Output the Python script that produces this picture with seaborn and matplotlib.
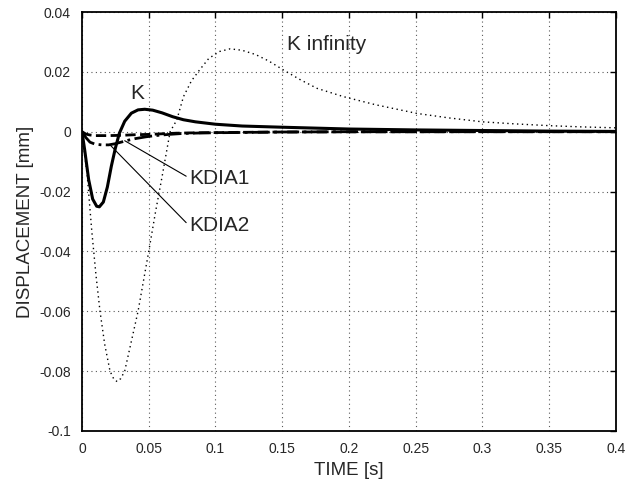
import matplotlib
matplotlib.use("Agg")
import matplotlib.pyplot as plt
import seaborn as sns

# --- data ---
k_t = [0, 0.002, 0.005, 0.008, 0.011, 0.013, 0.016, 0.019, 0.022, 0.025, 0.028,
       0.032, 0.037, 0.042, 0.047, 0.053, 0.06, 0.068, 0.076, 0.085, 0.1, 0.12,
       0.15, 0.2, 0.25, 0.3, 0.35, 0.4]
k_y = [0, -0.006, -0.016, -0.0225, -0.0249, -0.0251, -0.0235, -0.0185, -0.0115,
       -0.0055, -0.0005, 0.0035, 0.0062, 0.0073, 0.0075, 0.0072, 0.0063, 0.0050,
       0.0040, 0.0033, 0.0025, 0.0019, 0.0015, 0.0009, 0.0006, 0.0004, 0.0002, 0.0001]

kinf_t = [0, 0.004, 0.0073, 0.0105, 0.0135, 0.017, 0.021, 0.024, 0.0264, 0.029,
          0.032, 0.036, 0.042, 0.046, 0.050, 0.055, 0.060, 0.066, 0.071, 0.076,
          0.082, 0.088, 0.095, 0.103, 0.111, 0.12, 0.13, 0.14, 0.151, 0.163,
          0.176, 0.196, 0.22, 0.251, 0.275, 0.3, 0.325, 0.351, 0.375, 0.4]
kinf_y = [0, -0.015, -0.033, -0.048, -0.060, -0.071, -0.080, -0.0828, -0.0835,
          -0.0825, -0.080, -0.072, -0.060, -0.050, -0.040, -0.027, -0.015, 0.0,
          0.0039, 0.0117, 0.0170, 0.0206, 0.0245, 0.0268, 0.0277, 0.0272, 0.0258,
          0.0236, 0.0206, 0.0175, 0.0145, 0.0117, 0.0090, 0.0061, 0.0046, 0.0033,
          0.0026, 0.0020, 0.0016, 0.0013]

kdia1_t = [0, 0.003, 0.006, 0.01, 0.02, 0.03, 0.04, 0.05, 0.06, 0.07, 0.08, 0.1,
           0.12, 0.15, 0.2, 0.3, 0.4]
kdia1_y = [0, -0.0008, -0.0011, -0.0013, -0.0013, -0.0012, -0.0010, -0.0009,
           -0.0007, -0.0005, -0.0004, -0.0003, -0.0002, -0.0001, -0.00005, 0, 0]

kdia2_t = [0, 0.003, 0.006, 0.01, 0.015, 0.02, 0.025, 0.03, 0.035, 0.04, 0.048,
           0.055, 0.065, 0.075, 0.09, 0.11, 0.15, 0.2, 0.3, 0.4]
kdia2_y = [0, -0.002, -0.0035, -0.0042, -0.0044, -0.0044, -0.0040, -0.0034,
           -0.0028, -0.0023, -0.0017, -0.0013, -0.0009, -0.0006, -0.0004, -0.0003,
           -0.0001, 0, 0, 0]

x_ticks = [0, 0.05, 0.1, 0.15, 0.2, 0.25, 0.3, 0.35, 0.4]
x_labels = ['0', '0.05', '0.1', '0.15', '0.2', '0.25', '0.3', '0.35', '0.4']
y_ticks = [-0.1, -0.08, -0.06, -0.04, -0.02, 0, 0.02, 0.04]
y_labels = ['-0.1', '-0.08', '-0.06', '-0.04', '-0.02', '0', '0.02', '0.04']

# --- style ---
sns.set_style("white")
plt.rcParams['font.family'] = ['Liberation Sans', 'DejaVu Sans']

fig = plt.figure(figsize=(6.43, 4.86), dpi=100)
ax = fig.add_axes([0.1275, 0.1132, 0.8305, 0.8621])

sns.lineplot(x=kinf_t, y=kinf_y, ax=ax, color='black', linestyle=(0, (1, 2.5)), linewidth=1.0)
sns.lineplot(x=kdia1_t, y=kdia1_y, ax=ax, color='black', linestyle='--', linewidth=2.0)
sns.lineplot(x=kdia2_t, y=kdia2_y, ax=ax, color='black', linestyle='-.', linewidth=2.0)
sns.lineplot(x=k_t, y=k_y, ax=ax, color='black', linestyle='-', linewidth=2.2)

ax.set_xlim(0, 0.4)
ax.set_ylim(-0.1, 0.04)
ax.set_xticks(x_ticks)
ax.set_xticklabels(x_labels)
ax.set_yticks(y_ticks)
ax.set_yticklabels(y_labels)
ax.grid(True, linestyle=(0, (1, 3)), color='0.35', linewidth=0.8)
ax.tick_params(direction='in', top=True, right=True, length=4, width=1,
               labelsize=10, pad=8, color='black')
for s in ax.spines.values():
    s.set_color('black')
    s.set_linewidth(1.3)

ax.set_xlabel('TIME [s]', fontsize=13.5, labelpad=4)
ax.set_ylabel('DISPLACEMENT [mm]', fontsize=13.5, labelpad=4)

# --- labels on the curves ---
ax.text(0.0415, 0.0129, 'K', fontsize=15, ha='center', va='center')
ax.text(0.1535, 0.029, 'K infinity', fontsize=15, ha='left', va='center')
line_props = dict(arrowstyle='-', color='black', lw=0.8, shrinkA=0, shrinkB=0,
                  relpos=(0, 0.5))
ax.annotate('KDIA1', xy=(0.032, -0.0030), xytext=(0.0805, -0.0155),
            fontsize=15, ha='left', va='center', arrowprops=line_props)
ax.annotate('KDIA2', xy=(0.021, -0.0044), xytext=(0.0805, -0.0315),
            fontsize=15, ha='left', va='center', arrowprops=line_props)

plt.savefig('out.png', dpi=100)
plt.close()
